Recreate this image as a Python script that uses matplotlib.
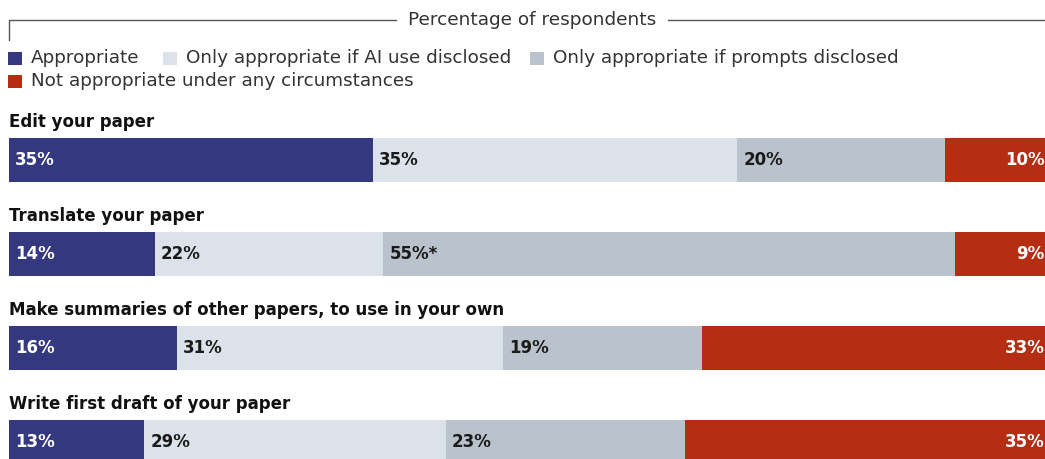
import matplotlib
matplotlib.use("Agg")
import matplotlib.pyplot as plt
from matplotlib.patches import Rectangle
import numpy as np

plt.rcParams['font.family'] = ['DejaVu Sans']

header = "Percentage of respondents"
categories = ["Appropriate", "Only appropriate if AI use disclosed",
              "Only appropriate if prompts disclosed",
              "Not appropriate under any circumstances"]
questions = ["Edit your paper", "Translate your paper",
             "Make summaries of other papers, to use in your own",
             "Write first draft of your paper"]
appropriate = [35, 14, 16, 13]
ai_disclosed = [35, 22, 31, 29]
prompts_disclosed = [20, 55, 19, 23]
not_appropriate = [10, 9, 33, 35]
label_suffix = ["", "", "", ""]
prompts_suffix = ["", "*", "", ""]

colors = ["#34387f", "#dbe2ea", "#bac2cc", "#b52d12"]
text_colors = ["white", "#1a1a1a", "#1a1a1a", "white"]

W, H = 1045, 459
fig = plt.figure(figsize=(W / 100, H / 100), dpi=100)
fig.patch.set_facecolor("white")

# decoration axes in pixel coords
deco = fig.add_axes([0, 0, 1, 1])
deco.set_xlim(0, W)
deco.set_ylim(H, 0)
deco.axis("off")

# bar axes: x in percent, y in pixels
ax = fig.add_axes([0, 0, 1, 1])
x0_px, full_px = 9, 1040
ax.set_xlim(-x0_px / full_px * 100, (W - x0_px) / full_px * 100)
ax.set_ylim(H, 0)
ax.axis("off")

# header
deco.plot([9, 9, 396], [40, 20, 20], color="#555555", lw=1.0)
deco.plot([668, W], [20, 20], color="#555555", lw=1.0)
deco.text(532, 20, header, ha="center", va="center", fontsize=13.3, color="#333333")

# legend
leg_pos = [(8, 58), (163, 58), (530, 58), (8, 81)]
for (lx, ly), c, lab in zip(leg_pos, colors, categories):
    deco.add_patch(Rectangle((lx, ly - 6.5), 14, 13, color=c, lw=0))
    deco.text(lx + 23, ly, lab, ha="left", va="center", fontsize=13.2, color="#333333")

series = np.array([appropriate, ai_disclosed, prompts_disclosed, not_appropriate], dtype=float)
suffixes = [label_suffix, label_suffix, prompts_suffix, label_suffix]
bar_top0, spacing, bar_h = 138, 94, 44

for i, q in enumerate(questions):
    top = bar_top0 + i * spacing
    yc = top + bar_h / 2
    ax.text(0, top - 16, q, ha="left", va="center", fontsize=12, fontweight="bold", color="#111111")
    total = series[:, i].sum()
    left = 0.0
    for k in range(4):
        w = series[k, i] / total * 100
        ax.barh(yc, w, left=left, height=bar_h, color=colors[k], edgecolor="none")
        lab = f"{int(series[k, i])}%{suffixes[k][i]}"
        if k == 3:
            ax.text(left + w - 0.45, yc, lab, ha="right", va="center", fontsize=12,
                    fontweight="bold", color=text_colors[k])
        else:
            ax.text(left + 0.6, yc, lab, ha="left", va="center", fontsize=12,
                    fontweight="bold", color=text_colors[k])
        left += w

fig.savefig("out.png", dpi=100, facecolor="white")
